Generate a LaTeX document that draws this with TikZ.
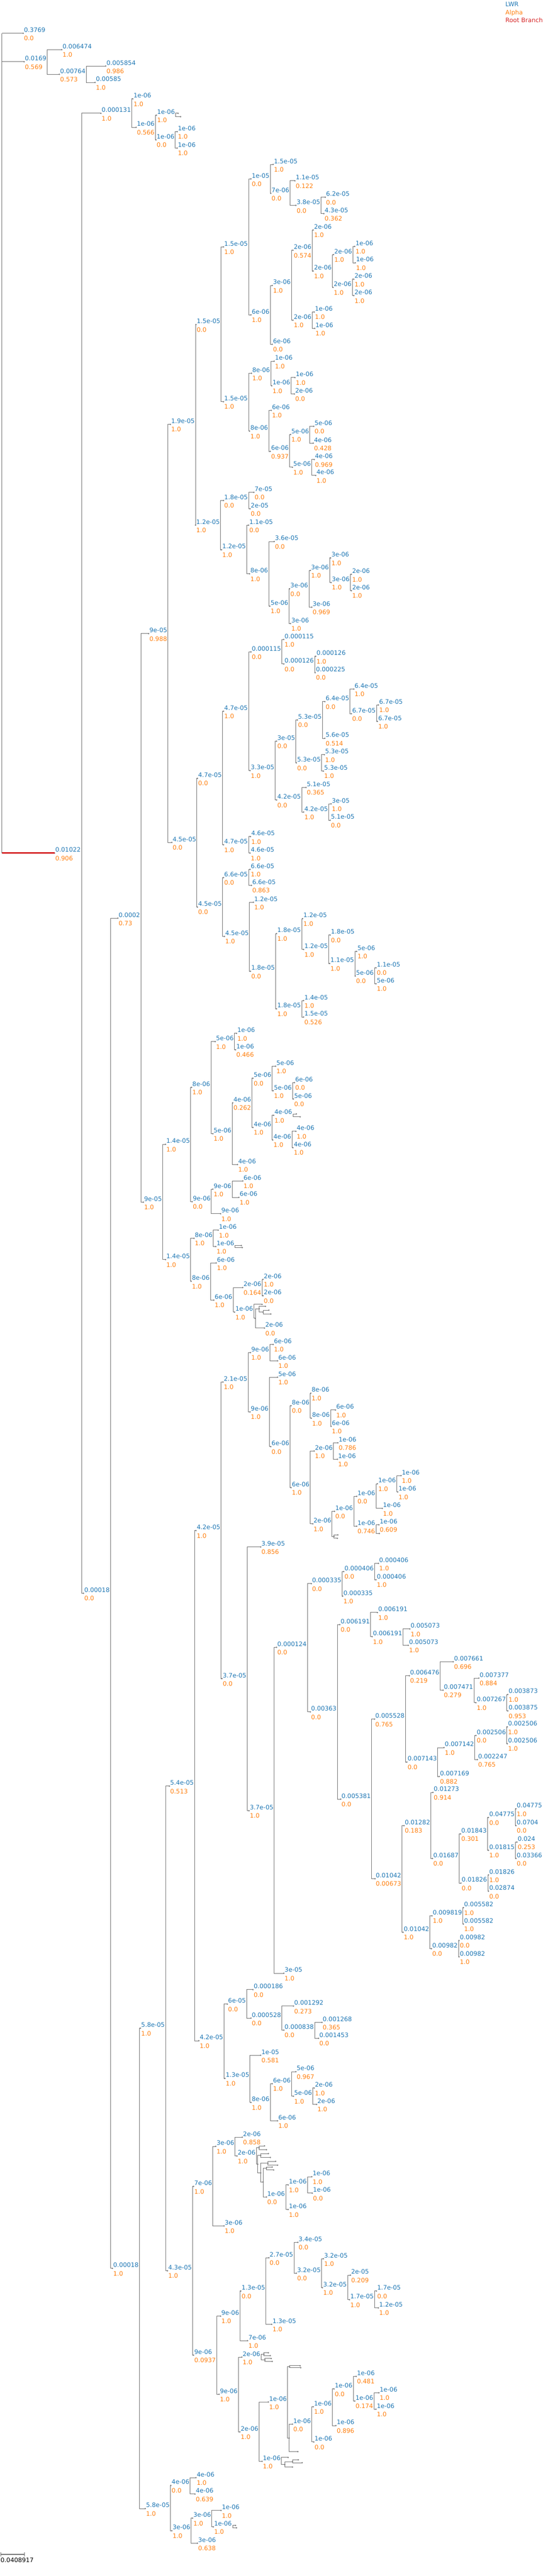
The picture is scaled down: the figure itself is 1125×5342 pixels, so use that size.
\documentclass[tikz,border=0pt]{standalone}
\usepackage{fontspec}
\setmainfont{DejaVu Sans}
\usetikzlibrary{shapes.multipart}
\usetikzlibrary{arrows.meta}

\definecolor{lwrblue}{HTML}{1F77B4}
\definecolor{alphaorange}{HTML}{FF7F0E}
\definecolor{rootred}{HTML}{D62728}
\definecolor{branchgray}{HTML}{707070}
\definecolor{tipgray}{HTML}{808080}

\begin{document}
\begin{tikzpicture}[
    x=0.75pt, y=-0.75pt,
    lwr/.style={rectangle split, rectangle split parts=2,
      rectangle split part align=left, inner xsep=1.1pt, inner ysep=0pt,
      text height=11.25pt, text depth=1.5pt, anchor=text split west,
      text=lwrblue, font=\fontsize{9.5pt}{11pt}\selectfont,
      append after command={(\tikzlastnode.text split west) node[tipdot] {}}},
    every two node part/.style={font=\fontsize{9.5pt}{11pt}\selectfont\color{alphaorange}\rule{0pt}{11.25pt}},
    tipdot/.style={circle, fill=tipgray, inner sep=0pt, minimum size=2.4pt},
    br/.style={draw=branchgray, line width=0.8pt},
    rootbr/.style={draw=rootred, line width=2.7pt},
    legendtext/.style={anchor=base west, inner sep=0pt, font=\fontsize{9.5pt}{11pt}\selectfont},
    scalebar/.style={draw=branchgray, line width=0.9pt, {Bar[width=6.75pt]}-{Bar[width=6.75pt]}},
  ]
  \useasboundingbox (0,0) rectangle (1125,5342);

  \node[legendtext, text=lwrblue] (key lwr) at (1047,13) {LWR};
  \node[legendtext, text=alphaorange] (key alpha) at (1047,30) {Alpha};
  \node[legendtext, text=rootred] (key root) at (1047,47) {Root Branch};

  \coordinate (root) at (4,69);
  \node[lwr] (n1) at (48,69) {0.3769\nodepart{two}0.0};
  \node[lwr] (n2) at (50,128) {0.0169\nodepart{two}0.569};
  \node[lwr] (n3) at (128,103) {0.006474\nodepart{two}1.0};
  \node[lwr] (n4) at (123,154) {0.00764\nodepart{two}0.573};
  \node[lwr] (n5) at (219,137) {0.005854\nodepart{two}0.986};
  \node[lwr] (n6) at (197,171) {0.00585\nodepart{two}1.0};
  \node[lwr] (n7) at (113,1769) {0.01022\nodepart{two}0.906};
  \node[lwr] (n8) at (209,235) {0.000131\nodepart{two}1.0};
  \node[lwr] (n9) at (275,205) {1e-06\nodepart{two}1.0};
  \node[lwr] (n10) at (282,264) {1e-06\nodepart{two}0.566};
  \node[lwr] (n11) at (324,239) {1e-06\nodepart{two}1.0};
  \node[tipdot] (n11a) at (369,235) {};
  \node[tipdot] (n11b) at (374,242) {};
  \node[lwr] (n12) at (323,290) {1e-06\nodepart{two}0.0};
  \node[lwr] (n13) at (367,273) {1e-06\nodepart{two}1.0};
  \node[lwr] (n14) at (367,307) {1e-06\nodepart{two}1.0};
  \node[lwr] (n15) at (173,3304) {0.00018\nodepart{two}0.0};
  \node[lwr] (n16) at (244,1904) {0.0002\nodepart{two}0.73};
  \node[lwr] (n17) at (308,1314) {9e-05\nodepart{two}0.988};
  \node[lwr] (n18) at (353,880) {1.9e-05\nodepart{two}1.0};
  \node[lwr] (n19) at (406,673) {1.5e-05\nodepart{two}0.0};
  \node[lwr] (n20) at (463,512) {1.5e-05\nodepart{two}1.0};
  \node[lwr] (n21) at (520,371) {1e-05\nodepart{two}0.0};
  \node[lwr] (n22) at (566,341) {1.5e-05\nodepart{two}1.0};
  \node[lwr] (n23) at (561,401) {7e-06\nodepart{two}0.0};
  \node[lwr] (n24) at (611,375) {1.1e-05\nodepart{two}0.122};
  \node[lwr] (n25) at (613,426) {3.8e-05\nodepart{two}0.0};
  \node[lwr] (n26) at (674,409) {6.2e-05\nodepart{two}0.0};
  \node[lwr] (n27) at (671,443) {4.3e-05\nodepart{two}0.362};
  \node[lwr] (n28) at (520,653) {6e-06\nodepart{two}1.0};
  \node[lwr] (n29) at (564,592) {3e-06\nodepart{two}1.0};
  \node[lwr] (n30) at (607,519) {2e-06\nodepart{two}0.574};
  \node[lwr] (n31) at (649,477) {2e-06\nodepart{two}1.0};
  \node[lwr] (n32) at (649,562) {2e-06\nodepart{two}1.0};
  \node[lwr] (n33) at (691,528) {2e-06\nodepart{two}1.0};
  \node[lwr] (n34) at (735,511) {1e-06\nodepart{two}1.0};
  \node[lwr] (n35) at (736,545) {1e-06\nodepart{two}1.0};
  \node[lwr] (n36) at (690,596) {2e-06\nodepart{two}1.0};
  \node[lwr] (n37) at (733,579) {2e-06\nodepart{two}1.0};
  \node[lwr] (n38) at (733,613) {2e-06\nodepart{two}1.0};
  \node[lwr] (n39) at (607,664) {2e-06\nodepart{two}1.0};
  \node[lwr] (n40) at (651,647) {1e-06\nodepart{two}1.0};
  \node[lwr] (n41) at (652,681) {1e-06\nodepart{two}1.0};
  \node[lwr] (n42) at (564,714) {6e-06\nodepart{two}0.0};
  \node[lwr] (n43) at (463,833) {1.5e-05\nodepart{two}1.0};
  \node[lwr] (n44) at (521,774) {8e-06\nodepart{two}1.0};
  \node[lwr] (n45) at (568,749) {1e-06\nodepart{two}1.0};
  \node[lwr] (n46) at (563,800) {1e-06\nodepart{two}1.0};
  \node[lwr] (n47) at (611,783) {1e-06\nodepart{two}1.0};
  \node[lwr] (n48) at (610,817) {2e-06\nodepart{two}0.0};
  \node[lwr] (n49) at (517,894) {8e-06\nodepart{two}1.0};
  \node[lwr] (n50) at (562,851) {6e-06\nodepart{two}1.0};
  \node[lwr] (n51) at (560,936) {6e-06\nodepart{two}0.937};
  \node[lwr] (n52) at (602,901) {5e-06\nodepart{two}1.0};
  \node[lwr] (n53) at (650,884) {5e-06\nodepart{two}0.0};
  \node[lwr] (n54) at (649,919) {4e-06\nodepart{two}0.428};
  \node[lwr] (n55) at (606,969) {5e-06\nodepart{two}1.0};
  \node[lwr] (n56) at (651,953) {4e-06\nodepart{two}0.969};
  \node[lwr] (n57) at (654,986) {4e-06\nodepart{two}1.0};
  \node[lwr] (n58) at (405,1089) {1.2e-05\nodepart{two}1.0};
  \node[lwr] (n59) at (463,1038) {1.8e-05\nodepart{two}0.0};
  \node[lwr] (n60) at (526,1021) {7e-05\nodepart{two}0.0};
  \node[lwr] (n61) at (518,1055) {2e-05\nodepart{two}0.0};
  \node[lwr] (n62) at (459,1140) {1.2e-05\nodepart{two}1.0};
  \node[lwr] (n63) at (515,1089) {1.1e-05\nodepart{two}0.0};
  \node[lwr] (n64) at (517,1190) {8e-06\nodepart{two}1.0};
  \node[lwr] (n65) at (568,1123) {3.6e-05\nodepart{two}0.0};
  \node[lwr] (n66) at (559,1257) {5e-06\nodepart{two}1.0};
  \node[lwr] (n67) at (600,1221) {3e-06\nodepart{two}0.0};
  \node[lwr] (n68) at (643,1183) {3e-06\nodepart{two}1.0};
  \node[lwr] (n69) at (685,1157) {3e-06\nodepart{two}1.0};
  \node[lwr] (n70) at (686,1208) {3e-06\nodepart{two}1.0};
  \node[lwr] (n71) at (728,1191) {2e-06\nodepart{two}1.0};
  \node[lwr] (n72) at (728,1225) {2e-06\nodepart{two}1.0};
  \node[lwr] (n73) at (646,1259) {3e-06\nodepart{two}0.969};
  \node[lwr] (n74) at (602,1293) {3e-06\nodepart{two}1.0};
  \node[lwr] (n75) at (356,1747) {4.5e-05\nodepart{two}0.0};
  \node[lwr] (n76) at (409,1614) {4.7e-05\nodepart{two}0.0};
  \node[lwr] (n77) at (463,1475) {4.7e-05\nodepart{two}1.0};
  \node[lwr] (n78) at (520,1352) {0.000115\nodepart{two}0.0};
  \node[lwr] (n79) at (588,1326) {0.000115\nodepart{two}1.0};
  \node[lwr] (n80) at (588,1377) {0.000126\nodepart{two}0.0};
  \node[lwr] (n81) at (654,1361) {0.000126\nodepart{two}1.0};
  \node[lwr] (n82) at (653,1395) {0.000225\nodepart{two}0.0};
  \node[lwr] (n83) at (518,1598) {3.3e-05\nodepart{two}1.0};
  \node[lwr] (n84) at (573,1537) {3e-05\nodepart{two}0.0};
  \node[lwr] (n85) at (616,1493) {5.3e-05\nodepart{two}0.0};
  \node[lwr] (n86) at (673,1455) {6.4e-05\nodepart{two}0.0};
  \node[lwr] (n87) at (733,1429) {6.4e-05\nodepart{two}1.0};
  \node[lwr] (n88) at (728,1480) {6.7e-05\nodepart{two}0.0};
  \node[lwr] (n89) at (784,1462) {6.7e-05\nodepart{two}1.0};
  \node[lwr] (n90) at (782,1496) {6.7e-05\nodepart{two}1.0};
  \node[lwr] (n91) at (673,1531) {5.6e-05\nodepart{two}0.514};
  \node[lwr] (n92) at (614,1582) {5.3e-05\nodepart{two}0.0};
  \node[lwr] (n93) at (672,1565) {5.3e-05\nodepart{two}1.0};
  \node[lwr] (n94) at (670,1599) {5.3e-05\nodepart{two}1.0};
  \node[lwr] (n95) at (573,1659) {4.2e-05\nodepart{two}0.0};
  \node[lwr] (n96) at (634,1633) {5.1e-05\nodepart{two}0.365};
  \node[lwr] (n97) at (629,1684) {4.2e-05\nodepart{two}1.0};
  \node[lwr] (n98) at (686,1667) {3e-05\nodepart{two}1.0};
  \node[lwr] (n99) at (684,1701) {5.1e-05\nodepart{two}0.0};
  \node[lwr] (n100) at (463,1752) {4.7e-05\nodepart{two}1.0};
  \node[lwr] (n101) at (519,1735) {4.6e-05\nodepart{two}1.0};
  \node[lwr] (n102) at (518,1769) {4.6e-05\nodepart{two}1.0};
  \node[lwr] (n103) at (409,1881) {4.5e-05\nodepart{two}0.0};
  \node[lwr] (n104) at (463,1820) {6.6e-05\nodepart{two}0.0};
  \node[lwr] (n105) at (518,1803) {6.6e-05\nodepart{two}1.0};
  \node[lwr] (n106) at (521,1836) {6.6e-05\nodepart{two}0.863};
  \node[lwr] (n107) at (465,1942) {4.5e-05\nodepart{two}1.0};
  \node[lwr] (n108) at (525,1871) {1.2e-05\nodepart{two}1.0};
  \node[lwr] (n109) at (519,2014) {1.8e-05\nodepart{two}0.0};
  \node[lwr] (n110) at (573,1936) {1.8e-05\nodepart{two}1.0};
  \node[lwr] (n111) at (627,1905) {1.2e-05\nodepart{two}1.0};
  \node[lwr] (n112) at (629,1969) {1.2e-05\nodepart{two}1.0};
  \node[lwr] (n113) at (684,1939) {1.8e-05\nodepart{two}0.0};
  \node[lwr] (n114) at (683,1998) {1.1e-05\nodepart{two}1.0};
  \node[lwr] (n115) at (739,1973) {5e-06\nodepart{two}1.0};
  \node[lwr] (n116) at (736,2024) {5e-06\nodepart{two}0.0};
  \node[lwr] (n117) at (779,2007) {1.1e-05\nodepart{two}0.0};
  \node[lwr] (n118) at (779,2040) {5e-06\nodepart{two}1.0};
  \node[lwr] (n119) at (573,2092) {1.8e-05\nodepart{two}1.0};
  \node[lwr] (n120) at (629,2075) {1.4e-05\nodepart{two}1.0};
  \node[lwr] (n121) at (629,2109) {1.5e-05\nodepart{two}0.526};
  \node[lwr] (n122) at (297,2493) {9e-05\nodepart{two}1.0};
  \node[lwr] (n123) at (343,2373) {1.4e-05\nodepart{two}1.0};
  \node[lwr] (n124) at (397,2255) {8e-06\nodepart{two}1.0};
  \node[lwr] (n125) at (446,2160) {5e-06\nodepart{two}1.0};
  \node[lwr] (n126) at (490,2143) {1e-06\nodepart{two}1.0};
  \node[lwr] (n127) at (488,2177) {1e-06\nodepart{two}0.466};
  \node[lwr] (n128) at (441,2351) {5e-06\nodepart{two}1.0};
  \node[lwr] (n129) at (482,2287) {4e-06\nodepart{two}0.262};
  \node[lwr] (n130) at (524,2236) {5e-06\nodepart{two}0.0};
  \node[lwr] (n131) at (571,2211) {5e-06\nodepart{two}1.0};
  \node[lwr] (n132) at (566,2262) {5e-06\nodepart{two}1.0};
  \node[lwr] (n133) at (610,2245) {6e-06\nodepart{two}0.0};
  \node[lwr] (n134) at (608,2279) {5e-06\nodepart{two}0.0};
  \node[lwr] (n135) at (524,2338) {4e-06\nodepart{two}1.0};
  \node[lwr] (n136) at (567,2313) {4e-06\nodepart{two}1.0};
  \node[tipdot] (n136a) at (614,2310) {};
  \node[tipdot] (n136b) at (622,2316) {};
  \node[lwr] (n137) at (565,2364) {4e-06\nodepart{two}1.0};
  \node[lwr] (n138) at (613,2346) {4e-06\nodepart{two}1.0};
  \node[lwr] (n139) at (607,2380) {4e-06\nodepart{two}1.0};
  \node[lwr] (n140) at (492,2415) {4e-06\nodepart{two}1.0};
  \node[lwr] (n141) at (398,2492) {9e-06\nodepart{two}0.0};
  \node[lwr] (n142) at (441,2466) {9e-06\nodepart{two}1.0};
  \node[lwr] (n143) at (503,2449) {6e-06\nodepart{two}1.0};
  \node[lwr] (n144) at (495,2483) {6e-06\nodepart{two}1.0};
  \node[lwr] (n145) at (457,2517) {9e-06\nodepart{two}1.0};
  \node[lwr] (n146) at (343,2612) {1.4e-05\nodepart{two}1.0};
  \node[lwr] (n147) at (402,2568) {8e-06\nodepart{two}1.0};
  \node[lwr] (n148) at (452,2551) {1e-06\nodepart{two}1.0};
  \node[lwr] (n149) at (447,2585) {1e-06\nodepart{two}1.0};
  \node[tipdot] (n149a) at (500,2583) {};
  \node[tipdot] (n149b) at (502,2587) {};
  \node[lwr] (n150) at (396,2657) {8e-06\nodepart{two}1.0};
  \node[lwr] (n151) at (448,2619) {6e-06\nodepart{two}1.0};
  \node[lwr] (n152) at (443,2696) {6e-06\nodepart{two}1.0};
  \node[lwr] (n153) at (503,2670) {2e-06\nodepart{two}0.164};
  \node[lwr] (n154) at (545,2653) {2e-06\nodepart{two}1.0};
  \node[lwr] (n155) at (545,2687) {2e-06\nodepart{two}0.0};
  \node[lwr] (n156) at (486,2721) {1e-06\nodepart{two}1.0};
  \node[tipdot] (n156a) at (543,2705) {};
  \node[tipdot] (n156b) at (529,2734) {};
  \node[tipdot] (n156e) at (537,2714) {};
  \node[tipdot] (n156f) at (550,2709) {};
  \node[tipdot] (n156g) at (545,2721) {};
  \node[tipdot] (n156h) at (557,2717) {};
  \node[tipdot] (n156i) at (561,2725) {};
  \node[lwr] (n157) at (548,2754) {2e-06\nodepart{two}0.0};
  \node[lwr] (n158) at (233,4704) {0.00018\nodepart{two}1.0};
  \node[lwr] (n159) at (291,4206) {5.8e-05\nodepart{two}1.0};
  \node[lwr] (n160) at (351,3704) {5.4e-05\nodepart{two}0.513};
  \node[lwr] (n161) at (406,3174) {4.2e-05\nodepart{two}1.0};
  \node[lwr] (n162) at (462,2866) {2.1e-05\nodepart{two}1.0};
  \node[lwr] (n163) at (519,2805) {9e-06\nodepart{two}1.0};
  \node[lwr] (n164) at (566,2788) {6e-06\nodepart{two}1.0};
  \node[lwr] (n165) at (575,2822) {6e-06\nodepart{two}1.0};
  \node[lwr] (n166) at (518,2928) {9e-06\nodepart{two}1.0};
  \node[lwr] (n167) at (575,2856) {5e-06\nodepart{two}1.0};
  \node[lwr] (n168) at (561,3000) {6e-06\nodepart{two}0.0};
  \node[lwr] (n169) at (603,2915) {8e-06\nodepart{two}0.0};
  \node[lwr] (n170) at (644,2889) {8e-06\nodepart{two}1.0};
  \node[lwr] (n171) at (645,2941) {8e-06\nodepart{two}1.0};
  \node[lwr] (n172) at (695,2924) {6e-06\nodepart{two}1.0};
  \node[lwr] (n173) at (686,2958) {6e-06\nodepart{two}1.0};
  \node[lwr] (n174) at (603,3085) {6e-06\nodepart{two}1.0};
  \node[lwr] (n175) at (651,3009) {2e-06\nodepart{two}1.0};
  \node[lwr] (n176) at (700,2992) {1e-06\nodepart{two}0.786};
  \node[lwr] (n177) at (699,3026) {1e-06\nodepart{two}1.0};
  \node[lwr] (n178) at (648,3160) {2e-06\nodepart{two}1.0};
  \node[lwr] (n179) at (693,3134) {1e-06\nodepart{two}0.0};
  \node[lwr] (n180) at (739,3103) {1e-06\nodepart{two}0.0};
  \node[lwr] (n181) at (782,3077) {1e-06\nodepart{two}1.0};
  \node[lwr] (n182) at (831,3060) {1e-06\nodepart{two}1.0};
  \node[lwr] (n183) at (824,3094) {1e-06\nodepart{two}1.0};
  \node[lwr] (n184) at (792,3128) {1e-06\nodepart{two}1.0};
  \node[lwr] (n185) at (739,3165) {1e-06\nodepart{two}0.746};
  \node[lwr] (n186) at (785,3162) {1e-06\nodepart{two}0.609};
  \node[tipdot] (n185a) at (786,3180) {};
  \node[tipdot] (n178a) at (692,3186) {};
  \node[tipdot] (n178b) at (700,3183) {};
  \node[tipdot] (n178c) at (699,3190) {};
  \node[lwr] (n187) at (460,3481) {3.7e-05\nodepart{two}0.0};
  \node[lwr] (n188) at (540,3208) {3.9e-05\nodepart{two}0.856};
  \node[lwr] (n189) at (516,3755) {3.7e-05\nodepart{two}1.0};
  \node[lwr] (n190) at (573,3416) {0.000124\nodepart{two}0.0};
  \node[lwr] (n191) at (645,3284) {0.000335\nodepart{two}0.0};
  \node[lwr] (n192) at (712,3259) {0.000406\nodepart{two}0.0};
  \node[lwr] (n193) at (784,3242) {0.000406\nodepart{two}1.0};
  \node[lwr] (n194) at (779,3276) {0.000406\nodepart{two}1.0};
  \node[lwr] (n195) at (710,3310) {0.000335\nodepart{two}1.0};
  \node[lwr] (n196) at (643,3550) {0.00363\nodepart{two}0.0};
  \node[lwr] (n197) at (704,3369) {0.006191\nodepart{two}0.0};
  \node[lwr] (n198) at (782,3344) {0.006191\nodepart{two}1.0};
  \node[lwr] (n199) at (771,3394) {0.006191\nodepart{two}1.0};
  \node[lwr] (n200) at (849,3378) {0.005073\nodepart{two}1.0};
  \node[lwr] (n201) at (846,3412) {0.005073\nodepart{two}1.0};
  \node[lwr] (n202) at (706,3731) {0.005381\nodepart{two}0.0};
  \node[lwr] (n203) at (776,3565) {0.005528\nodepart{two}0.765};
  \node[lwr] (n204) at (848,3475) {0.006476\nodepart{two}0.219};
  \node[lwr] (n205) at (939,3446) {0.007661\nodepart{two}0.696};
  \node[lwr] (n206) at (918,3505) {0.007471\nodepart{two}0.279};
  \node[lwr] (n207) at (992,3480) {0.007377\nodepart{two}0.884};
  \node[lwr] (n208) at (986,3531) {0.007267\nodepart{two}1.0};
  \node[lwr] (n209) at (1052,3514) {0.003873\nodepart{two}1.0};
  \node[lwr] (n210) at (1052,3548) {0.003875\nodepart{two}0.953};
  \node[lwr] (n211) at (843,3654) {0.007143\nodepart{two}0.0};
  \node[lwr] (n212) at (920,3624) {0.007142\nodepart{two}1.0};
  \node[lwr] (n213) at (986,3599) {0.002506\nodepart{two}0.0};
  \node[lwr] (n214) at (1051,3581) {0.002506\nodepart{two}1.0};
  \node[lwr] (n215) at (1051,3616) {0.002506\nodepart{two}1.0};
  \node[lwr] (n216) at (989,3649) {0.002247\nodepart{two}0.765};
  \node[lwr] (n217) at (910,3684) {0.007169\nodepart{two}0.882};
  \node[lwr] (n218) at (777,3896) {0.01042\nodepart{two}0.00673};
  \node[lwr] (n219) at (837,3786) {0.01282\nodepart{two}0.183};
  \node[lwr] (n220) at (897,3717) {0.01273\nodepart{two}0.914};
  \node[lwr] (n221) at (896,3854) {0.01687\nodepart{two}0.0};
  \node[lwr] (n222) at (954,3803) {0.01843\nodepart{two}0.301};
  \node[lwr] (n223) at (1012,3769) {0.04775\nodepart{two}0.0};
  \node[lwr] (n224) at (1069,3751) {0.04775\nodepart{two}1.0};
  \node[lwr] (n225) at (1069,3786) {0.0704\nodepart{two}0.0};
  \node[lwr] (n226) at (1012,3837) {0.01815\nodepart{two}1.0};
  \node[lwr] (n227) at (1071,3820) {0.024\nodepart{two}0.253};
  \node[lwr] (n228) at (1069,3854) {0.03366\nodepart{two}0.0};
  \node[lwr] (n229) at (955,3905) {0.01826\nodepart{two}0.0};
  \node[lwr] (n230) at (1012,3888) {0.01826\nodepart{two}1.0};
  \node[lwr] (n231) at (1012,3922) {0.02874\nodepart{two}0.0};
  \node[lwr] (n232) at (835,4007) {0.01042\nodepart{two}1.0};
  \node[lwr] (n233) at (895,3973) {0.009819\nodepart{two}1.0};
  \node[lwr] (n234) at (960,3956) {0.005582\nodepart{two}1.0};
  \node[lwr] (n235) at (960,3990) {0.005582\nodepart{two}1.0};
  \node[lwr] (n236) at (894,4041) {0.00982\nodepart{two}0.0};
  \node[lwr] (n237) at (951,4024) {0.00982\nodepart{two}0.0};
  \node[lwr] (n238) at (951,4058) {0.00982\nodepart{two}1.0};
  \node[lwr] (n239) at (588,4092) {3e-05\nodepart{two}1.0};
  \node[lwr] (n240) at (412,4232) {4.2e-05\nodepart{two}1.0};
  \node[lwr] (n241) at (471,4156) {6e-05\nodepart{two}0.0};
  \node[lwr] (n242) at (524,4126) {0.000186\nodepart{two}0.0};
  \node[lwr] (n243) at (520,4185) {0.000528\nodepart{two}0.0};
  \node[lwr] (n244) at (608,4160) {0.001292\nodepart{two}0.273};
  \node[lwr] (n245) at (588,4210) {0.000838\nodepart{two}0.0};
  \node[lwr] (n246) at (667,4194) {0.001268\nodepart{two}0.365};
  \node[lwr] (n247) at (660,4227) {0.001453\nodepart{two}0.0};
  \node[lwr] (n248) at (466,4310) {1.3e-05\nodepart{two}1.0};
  \node[lwr] (n249) at (540,4262) {1e-05\nodepart{two}0.581};
  \node[lwr] (n250) at (520,4360) {8e-06\nodepart{two}1.0};
  \node[lwr] (n251) at (564,4321) {6e-06\nodepart{two}1.0};
  \node[lwr] (n252) at (613,4296) {5e-06\nodepart{two}0.967};
  \node[lwr] (n253) at (608,4347) {5e-06\nodepart{two}1.0};
  \node[lwr] (n254) at (651,4330) {2e-06\nodepart{two}1.0};
  \node[lwr] (n255) at (656,4364) {2e-06\nodepart{two}1.0};
  \node[lwr] (n256) at (575,4398) {6e-06\nodepart{two}1.0};
  \node[lwr] (n257) at (347,4709) {4.3e-05\nodepart{two}1.0};
  \node[lwr] (n258) at (401,4534) {7e-06\nodepart{two}1.0};
  \node[lwr] (n259) at (447,4451) {3e-06\nodepart{two}1.0};
  \node[lwr] (n260) at (502,4432) {2e-06\nodepart{two}0.858};
  \node[lwr] (n261) at (491,4471) {2e-06\nodepart{two}1.0};
  \node[tipdot] (n261a) at (537,4454) {};
  \node[tipdot] (n261b) at (548,4450) {};
  \node[tipdot] (n261c) at (552,4458) {};
  \node[tipdot] (n261d) at (534,4488) {};
  \node[tipdot] (n261e) at (540,4470) {};
  \node[tipdot] (n261f) at (556,4466) {};
  \node[tipdot] (n261g) at (560,4474) {};
  \node[tipdot] (n261h) at (540,4506) {};
  \node[tipdot] (n261i) at (555,4486) {};
  \node[tipdot] (n261j) at (571,4482) {};
  \node[tipdot] (n261k) at (575,4490) {};
  \node[tipdot] (n261l) at (545,4525) {};
  \node[tipdot] (n261m) at (552,4496) {};
  \node[tipdot] (n261n) at (564,4494) {};
  \node[tipdot] (n261o) at (567,4500) {};
  \node[lwr] (n262) at (552,4556) {1e-06\nodepart{two}0.0};
  \node[lwr] (n263) at (597,4531) {1e-06\nodepart{two}1.0};
  \node[lwr] (n264) at (646,4514) {1e-06\nodepart{two}1.0};
  \node[lwr] (n265) at (647,4548) {1e-06\nodepart{two}0.0};
  \node[lwr] (n266) at (597,4582) {1e-06\nodepart{two}1.0};
  \node[lwr] (n267) at (464,4616) {3e-06\nodepart{two}1.0};
  \node[lwr] (n268) at (401,4884) {9e-06\nodepart{two}0.0937};
  \node[lwr] (n269) at (457,4803) {9e-06\nodepart{two}1.0};
  \node[lwr] (n270) at (499,4751) {1.3e-05\nodepart{two}0.0};
  \node[lwr] (n271) at (557,4682) {2.7e-05\nodepart{two}0.0};
  \node[lwr] (n272) at (617,4650) {3.4e-05\nodepart{two}0.0};
  \node[lwr] (n273) at (614,4714) {3.2e-05\nodepart{two}0.0};
  \node[lwr] (n274) at (670,4684) {3.2e-05\nodepart{two}1.0};
  \node[lwr] (n275) at (668,4744) {3.2e-05\nodepart{two}1.0};
  \node[lwr] (n276) at (726,4718) {2e-05\nodepart{two}0.209};
  \node[lwr] (n277) at (724,4769) {1.7e-05\nodepart{two}1.0};
  \node[lwr] (n278) at (780,4751) {1.7e-05\nodepart{two}0.0};
  \node[lwr] (n279) at (784,4786) {1.2e-05\nodepart{two}1.0};
  \node[lwr] (n280) at (563,4820) {1.3e-05\nodepart{two}1.0};
  \node[lwr] (n281) at (513,4854) {7e-06\nodepart{two}1.0};
  \node[lwr] (n282) at (454,4965) {9e-06\nodepart{two}1.0};
  \node[lwr] (n283) at (501,4888) {2e-06\nodepart{two}1.0};
  \node[tipdot] (n283a) at (547,4882) {};
  \node[tipdot] (n283b) at (556,4879) {};
  \node[tipdot] (n283c) at (560,4885) {};
  \node[tipdot] (n283d) at (549,4894) {};
  \node[tipdot] (n283e) at (562,4891) {};
  \node[tipdot] (n283f) at (564,4897) {};
  \node[lwr] (n284) at (497,5043) {2e-06\nodepart{two}1.0};
  \node[lwr] (n285) at (556,4981) {1e-06\nodepart{two}1.0};
  \node[tipdot] (n285a) at (600,4908) {};
  \node[tipdot] (n285b) at (622,4906) {};
  \node[tipdot] (n285c) at (623,4910) {};
  \node[tipdot] (n285d) at (599,5056) {};
  \node[tipdot] (n285e) at (617,5084) {};
  \node[lwr] (n286) at (606,5027) {1e-06\nodepart{two}0.0};
  \node[lwr] (n287) at (649,4991) {1e-06\nodepart{two}1.0};
  \node[lwr] (n288) at (692,4954) {1e-06\nodepart{two}0.0};
  \node[lwr] (n289) at (738,4928) {1e-06\nodepart{two}0.481};
  \node[lwr] (n290) at (735,4979) {1e-06\nodepart{two}0.174};
  \node[lwr] (n291) at (785,4962) {1e-06\nodepart{two}1.0};
  \node[lwr] (n292) at (779,4996) {1e-06\nodepart{two}1.0};
  \node[lwr] (n293) at (696,5030) {1e-06\nodepart{two}0.896};
  \node[lwr] (n294) at (650,5064) {1e-06\nodepart{two}0.0};
  \node[lwr] (n295) at (543,5104) {1e-06\nodepart{two}1.0};
  \node[tipdot] (n295a) at (597,5096) {};
  \node[tipdot] (n295b) at (590,5111) {};
  \node[tipdot] (n295c) at (606,5105) {};
  \node[tipdot] (n295d) at (618,5101) {};
  \node[tipdot] (n295e) at (626,5107) {};
  \node[tipdot] (n295f) at (606,5116) {};
  \node[lwr] (n296) at (301,5202) {5.8e-05\nodepart{two}1.0};
  \node[lwr] (n297) at (354,5154) {4e-06\nodepart{two}0.0};
  \node[lwr] (n298) at (406,5138) {4e-06\nodepart{two}1.0};
  \node[lwr] (n299) at (404,5172) {4e-06\nodepart{two}0.639};
  \node[lwr] (n300) at (356,5248) {3e-06\nodepart{two}1.0};
  \node[lwr] (n301) at (399,5222) {3e-06\nodepart{two}1.0};
  \node[lwr] (n302) at (458,5206) {1e-06\nodepart{two}1.0};
  \node[lwr] (n303) at (442,5240) {1e-06\nodepart{two}1.0};
  \node[tipdot] (n303a) at (488,5237) {};
  \node[tipdot] (n303b) at (490,5242) {};
  \node[lwr] (n304) at (409,5274) {3e-06\nodepart{two}0.638};

  \draw[br] (root) |- (n1.text split west) (root) |- (n2.text split west) (root) |- (n7.text split west);
  \draw[rootbr] (n7.text split west -| root) -- (n7.text split west);
  \draw[br] (n2.text split east) |- (n3.text split west) (n2.text split east) |- (n4.text split west);
  \draw[br] (n4.text split east) |- (n5.text split west) (n4.text split east) |- (n6.text split west);
  \draw[br] (n7.text split east) |- (n8.text split west) (n7.text split east) |- (n15.text split west);
  \draw[br] (n8.text split east) |- (n9.text split west) (n8.text split east) |- (n10.text split west);
  \draw[br] (n10.text split east) |- (n11.text split west) (n10.text split east) |- (n12.text split west);
  \draw[br] (n11.text split east) |- (n11a.center) (n11.text split east) |- (n11b.center);
  \draw[br] (n12.text split east) |- (n13.text split west) (n12.text split east) |- (n14.text split west);
  \draw[br] (n15.text split east) |- (n16.text split west) (n15.text split east) |- (n158.text split west);
  \draw[br] (n16.text split east) |- (n17.text split west) (n16.text split east) |- (n122.text split west);
  \draw[br] (n17.text split east) |- (n18.text split west) (n17.text split east) |- (n75.text split west);
  \draw[br] (n18.text split east) |- (n19.text split west) (n18.text split east) |- (n58.text split west);
  \draw[br] (n19.text split east) |- (n20.text split west) (n19.text split east) |- (n43.text split west);
  \draw[br] (n20.text split east) |- (n21.text split west) (n20.text split east) |- (n28.text split west);
  \draw[br] (n21.text split east) |- (n22.text split west) (n21.text split east) |- (n23.text split west);
  \draw[br] (n23.text split east) |- (n24.text split west) (n23.text split east) |- (n25.text split west);
  \draw[br] (n25.text split east) |- (n26.text split west) (n25.text split east) |- (n27.text split west);
  \draw[br] (n28.text split east) |- (n29.text split west) (n28.text split east) |- (n42.text split west);
  \draw[br] (n29.text split east) |- (n30.text split west) (n29.text split east) |- (n39.text split west);
  \draw[br] (n30.text split east) |- (n31.text split west) (n30.text split east) |- (n32.text split west);
  \draw[br] (n32.text split east) |- (n33.text split west) (n32.text split east) |- (n36.text split west);
  \draw[br] (n33.text split east) |- (n34.text split west) (n33.text split east) |- (n35.text split west);
  \draw[br] (n36.text split east) |- (n37.text split west) (n36.text split east) |- (n38.text split west);
  \draw[br] (n39.text split east) |- (n40.text split west) (n39.text split east) |- (n41.text split west);
  \draw[br] (n43.text split east) |- (n44.text split west) (n43.text split east) |- (n49.text split west);
  \draw[br] (n44.text split east) |- (n45.text split west) (n44.text split east) |- (n46.text split west);
  \draw[br] (n46.text split east) |- (n47.text split west) (n46.text split east) |- (n48.text split west);
  \draw[br] (n49.text split east) |- (n50.text split west) (n49.text split east) |- (n51.text split west);
  \draw[br] (n51.text split east) |- (n52.text split west) (n51.text split east) |- (n55.text split west);
  \draw[br] (n52.text split east) |- (n53.text split west) (n52.text split east) |- (n54.text split west);
  \draw[br] (n55.text split east) |- (n56.text split west) (n55.text split east) |- (n57.text split west);
  \draw[br] (n58.text split east) |- (n59.text split west) (n58.text split east) |- (n62.text split west);
  \draw[br] (n59.text split east) |- (n60.text split west) (n59.text split east) |- (n61.text split west);
  \draw[br] (n62.text split east) |- (n63.text split west) (n62.text split east) |- (n64.text split west);
  \draw[br] (n64.text split east) |- (n65.text split west) (n64.text split east) |- (n66.text split west);
  \draw[br] (n66.text split east) |- (n67.text split west) (n66.text split east) |- (n74.text split west);
  \draw[br] (n67.text split east) |- (n68.text split west) (n67.text split east) |- (n73.text split west);
  \draw[br] (n68.text split east) |- (n69.text split west) (n68.text split east) |- (n70.text split west);
  \draw[br] (n70.text split east) |- (n71.text split west) (n70.text split east) |- (n72.text split west);
  \draw[br] (n75.text split east) |- (n76.text split west) (n75.text split east) |- (n103.text split west);
  \draw[br] (n76.text split east) |- (n77.text split west) (n76.text split east) |- (n100.text split west);
  \draw[br] (n77.text split east) |- (n78.text split west) (n77.text split east) |- (n83.text split west);
  \draw[br] (n78.text split east) |- (n79.text split west) (n78.text split east) |- (n80.text split west);
  \draw[br] (n80.text split east) |- (n81.text split west) (n80.text split east) |- (n82.text split west);
  \draw[br] (n83.text split east) |- (n84.text split west) (n83.text split east) |- (n95.text split west);
  \draw[br] (n84.text split east) |- (n85.text split west) (n84.text split east) |- (n92.text split west);
  \draw[br] (n85.text split east) |- (n86.text split west) (n85.text split east) |- (n91.text split west);
  \draw[br] (n86.text split east) |- (n87.text split west) (n86.text split east) |- (n88.text split west);
  \draw[br] (n88.text split east) |- (n89.text split west) (n88.text split east) |- (n90.text split west);
  \draw[br] (n92.text split east) |- (n93.text split west) (n92.text split east) |- (n94.text split west);
  \draw[br] (n95.text split east) |- (n96.text split west) (n95.text split east) |- (n97.text split west);
  \draw[br] (n97.text split east) |- (n98.text split west) (n97.text split east) |- (n99.text split west);
  \draw[br] (n100.text split east) |- (n101.text split west) (n100.text split east) |- (n102.text split west);
  \draw[br] (n103.text split east) |- (n104.text split west) (n103.text split east) |- (n107.text split west);
  \draw[br] (n104.text split east) |- (n105.text split west) (n104.text split east) |- (n106.text split west);
  \draw[br] (n107.text split east) |- (n108.text split west) (n107.text split east) |- (n109.text split west);
  \draw[br] (n109.text split east) |- (n110.text split west) (n109.text split east) |- (n119.text split west);
  \draw[br] (n110.text split east) |- (n111.text split west) (n110.text split east) |- (n112.text split west);
  \draw[br] (n112.text split east) |- (n113.text split west) (n112.text split east) |- (n114.text split west);
  \draw[br] (n114.text split east) |- (n115.text split west) (n114.text split east) |- (n116.text split west);
  \draw[br] (n116.text split east) |- (n117.text split west) (n116.text split east) |- (n118.text split west);
  \draw[br] (n119.text split east) |- (n120.text split west) (n119.text split east) |- (n121.text split west);
  \draw[br] (n122.text split east) |- (n123.text split west) (n122.text split east) |- (n146.text split west);
  \draw[br] (n123.text split east) |- (n124.text split west) (n123.text split east) |- (n141.text split west);
  \draw[br] (n124.text split east) |- (n125.text split west) (n124.text split east) |- (n128.text split west);
  \draw[br] (n125.text split east) |- (n126.text split west) (n125.text split east) |- (n127.text split west);
  \draw[br] (n128.text split east) |- (n129.text split west) (n128.text split east) |- (n140.text split west);
  \draw[br] (n129.text split east) |- (n130.text split west) (n129.text split east) |- (n135.text split west);
  \draw[br] (n130.text split east) |- (n131.text split west) (n130.text split east) |- (n132.text split west);
  \draw[br] (n132.text split east) |- (n133.text split west) (n132.text split east) |- (n134.text split west);
  \draw[br] (n135.text split east) |- (n136.text split west) (n135.text split east) |- (n137.text split west);
  \draw[br] (n136.text split east) |- (n136a.center) (n136.text split east) |- (n136b.center);
  \draw[br] (n137.text split east) |- (n138.text split west) (n137.text split east) |- (n139.text split west);
  \draw[br] (n141.text split east) |- (n142.text split west) (n141.text split east) |- (n145.text split west);
  \draw[br] (n142.text split east) |- (n143.text split west) (n142.text split east) |- (n144.text split west);
  \draw[br] (n146.text split east) |- (n147.text split west) (n146.text split east) |- (n150.text split west);
  \draw[br] (n147.text split east) |- (n148.text split west) (n147.text split east) |- (n149.text split west);
  \draw[br] (n149.text split east) |- (n149a.center) (n149.text split east) |- (n149b.center);
  \draw[br] (n150.text split east) |- (n151.text split west) (n150.text split east) |- (n152.text split west);
  \draw[br] (n152.text split east) |- (n153.text split west) (n152.text split east) |- (n156.text split west);
  \draw[br] (n153.text split east) |- (n154.text split west) (n153.text split east) |- (n155.text split west);
  \draw[br] (n156.text split east) |- (n156a.center) (n156.text split east) |- (n156b.center);
  \draw[br] (n156b.center) |- (n156e.center) (n156b.center) |- (n157.text split west);
  \draw[br] (n156e.center) |- (n156f.center) (n156e.center) |- (n156g.center);
  \draw[br] (n156g.center) |- (n156h.center) (n156g.center) |- (n156i.center);
  \draw[br] (n158.text split east) |- (n159.text split west) (n158.text split east) |- (n296.text split west);
  \draw[br] (n159.text split east) |- (n160.text split west) (n159.text split east) |- (n257.text split west);
  \draw[br] (n160.text split east) |- (n161.text split west) (n160.text split east) |- (n240.text split west);
  \draw[br] (n161.text split east) |- (n162.text split west) (n161.text split east) |- (n187.text split west);
  \draw[br] (n162.text split east) |- (n163.text split west) (n162.text split east) |- (n166.text split west);
  \draw[br] (n163.text split east) |- (n164.text split west) (n163.text split east) |- (n165.text split west);
  \draw[br] (n166.text split east) |- (n167.text split west) (n166.text split east) |- (n168.text split west);
  \draw[br] (n168.text split east) |- (n169.text split west) (n168.text split east) |- (n174.text split west);
  \draw[br] (n169.text split east) |- (n170.text split west) (n169.text split east) |- (n171.text split west);
  \draw[br] (n171.text split east) |- (n172.text split west) (n171.text split east) |- (n173.text split west);
  \draw[br] (n174.text split east) |- (n175.text split west) (n174.text split east) |- (n178.text split west);
  \draw[br] (n175.text split east) |- (n176.text split west) (n175.text split east) |- (n177.text split west);
  \draw[br] (n178.text split east) |- (n179.text split west) (n178.text split east) |- (n178a.center);
  \draw[br] (n178a.center) |- (n178b.center) (n178a.center) |- (n178c.center);
  \draw[br] (n179.text split east) |- (n180.text split west) (n179.text split east) |- (n185.text split west);
  \draw[br] (n180.text split east) |- (n181.text split west) (n180.text split east) |- (n184.text split west);
  \draw[br] (n181.text split east) |- (n182.text split west) (n181.text split east) |- (n183.text split west);
  \draw[br] (n185.text split east) |- (n186.text split west) (n185.text split east) |- (n185a.center);
  \draw[br] (n187.text split east) |- (n188.text split west) (n187.text split east) |- (n189.text split west);
  \draw[br] (n189.text split east) |- (n190.text split west) (n189.text split east) |- (n239.text split west);
  \draw[br] (n190.text split east) |- (n191.text split west) (n190.text split east) |- (n196.text split west);
  \draw[br] (n191.text split east) |- (n192.text split west) (n191.text split east) |- (n195.text split west);
  \draw[br] (n192.text split east) |- (n193.text split west) (n192.text split east) |- (n194.text split west);
  \draw[br] (n196.text split east) |- (n197.text split west) (n196.text split east) |- (n202.text split west);
  \draw[br] (n197.text split east) |- (n198.text split west) (n197.text split east) |- (n199.text split west);
  \draw[br] (n199.text split east) |- (n200.text split west) (n199.text split east) |- (n201.text split west);
  \draw[br] (n202.text split east) |- (n203.text split west) (n202.text split east) |- (n218.text split west);
  \draw[br] (n203.text split east) |- (n204.text split west) (n203.text split east) |- (n211.text split west);
  \draw[br] (n204.text split east) |- (n205.text split west) (n204.text split east) |- (n206.text split west);
  \draw[br] (n206.text split east) |- (n207.text split west) (n206.text split east) |- (n208.text split west);
  \draw[br] (n208.text split east) |- (n209.text split west) (n208.text split east) |- (n210.text split west);
  \draw[br] (n211.text split east) |- (n212.text split west) (n211.text split east) |- (n217.text split west);
  \draw[br] (n212.text split east) |- (n213.text split west) (n212.text split east) |- (n216.text split west);
  \draw[br] (n213.text split east) |- (n214.text split west) (n213.text split east) |- (n215.text split west);
  \draw[br] (n218.text split east) |- (n219.text split west) (n218.text split east) |- (n232.text split west);
  \draw[br] (n219.text split east) |- (n220.text split west) (n219.text split east) |- (n221.text split west);
  \draw[br] (n221.text split east) |- (n222.text split west) (n221.text split east) |- (n229.text split west);
  \draw[br] (n222.text split east) |- (n223.text split west) (n222.text split east) |- (n226.text split west);
  \draw[br] (n223.text split east) |- (n224.text split west) (n223.text split east) |- (n225.text split west);
  \draw[br] (n226.text split east) |- (n227.text split west) (n226.text split east) |- (n228.text split west);
  \draw[br] (n229.text split east) |- (n230.text split west) (n229.text split east) |- (n231.text split west);
  \draw[br] (n232.text split east) |- (n233.text split west) (n232.text split east) |- (n236.text split west);
  \draw[br] (n233.text split east) |- (n234.text split west) (n233.text split east) |- (n235.text split west);
  \draw[br] (n236.text split east) |- (n237.text split west) (n236.text split east) |- (n238.text split west);
  \draw[br] (n240.text split east) |- (n241.text split west) (n240.text split east) |- (n248.text split west);
  \draw[br] (n241.text split east) |- (n242.text split west) (n241.text split east) |- (n243.text split west);
  \draw[br] (n243.text split east) |- (n244.text split west) (n243.text split east) |- (n245.text split west);
  \draw[br] (n245.text split east) |- (n246.text split west) (n245.text split east) |- (n247.text split west);
  \draw[br] (n248.text split east) |- (n249.text split west) (n248.text split east) |- (n250.text split west);
  \draw[br] (n250.text split east) |- (n251.text split west) (n250.text split east) |- (n256.text split west);
  \draw[br] (n251.text split east) |- (n252.text split west) (n251.text split east) |- (n253.text split west);
  \draw[br] (n253.text split east) |- (n254.text split west) (n253.text split east) |- (n255.text split west);
  \draw[br] (n257.text split east) |- (n258.text split west) (n257.text split east) |- (n268.text split west);
  \draw[br] (n258.text split east) |- (n259.text split west) (n258.text split east) |- (n267.text split west);
  \draw[br] (n259.text split east) |- (n260.text split west) (n259.text split east) |- (n261.text split west);
  \draw[br] (n261.text split east) |- (n261a.center) (n261.text split east) |- (n261d.center);
  \draw[br] (n261a.center) |- (n261b.center) (n261a.center) |- (n261c.center);
  \draw[br] (n261d.center) |- (n261e.center) (n261d.center) |- (n261h.center);
  \draw[br] (n261e.center) |- (n261f.center) (n261e.center) |- (n261g.center);
  \draw[br] (n261h.center) |- (n261i.center) (n261h.center) |- (n261l.center);
  \draw[br] (n261i.center) |- (n261j.center) (n261i.center) |- (n261k.center);
  \draw[br] (n261l.center) |- (n261m.center) (n261l.center) |- (n262.text split west);
  \draw[br] (n261m.center) |- (n261n.center) (n261m.center) |- (n261o.center);
  \draw[br] (n262.text split east) |- (n263.text split west) (n262.text split east) |- (n266.text split west);
  \draw[br] (n263.text split east) |- (n264.text split west) (n263.text split east) |- (n265.text split west);
  \draw[br] (n268.text split east) |- (n269.text split west) (n268.text split east) |- (n282.text split west);
  \draw[br] (n269.text split east) |- (n270.text split west) (n269.text split east) |- (n281.text split west);
  \draw[br] (n270.text split east) |- (n271.text split west) (n270.text split east) |- (n280.text split west);
  \draw[br] (n271.text split east) |- (n272.text split west) (n271.text split east) |- (n273.text split west);
  \draw[br] (n273.text split east) |- (n274.text split west) (n273.text split east) |- (n275.text split west);
  \draw[br] (n275.text split east) |- (n276.text split west) (n275.text split east) |- (n277.text split west);
  \draw[br] (n277.text split east) |- (n278.text split west) (n277.text split east) |- (n279.text split west);
  \draw[br] (n282.text split east) |- (n283.text split west) (n282.text split east) |- (n284.text split west);
  \draw[br] (n283.text split east) |- (n283a.center) (n283.text split east) |- (n283d.center);
  \draw[br] (n283a.center) |- (n283b.center) (n283a.center) |- (n283c.center);
  \draw[br] (n283d.center) |- (n283e.center) (n283d.center) |- (n283f.center);
  \draw[br] (n284.text split east) |- (n285.text split west) (n284.text split east) |- (n295.text split west);
  \draw[br] (n285.text split east) |- (n285a.center) (n285.text split east) |- (n285d.center);
  \draw[br] (n285a.center) |- (n285b.center) (n285a.center) |- (n285c.center);
  \draw[br] (n285d.center) |- (n286.text split west) (n285d.center) |- (n285e.center);
  \draw[br] (n286.text split east) |- (n287.text split west) (n286.text split east) |- (n294.text split west);
  \draw[br] (n287.text split east) |- (n288.text split west) (n287.text split east) |- (n293.text split west);
  \draw[br] (n288.text split east) |- (n289.text split west) (n288.text split east) |- (n290.text split west);
  \draw[br] (n290.text split east) |- (n291.text split west) (n290.text split east) |- (n292.text split west);
  \draw[br] (n295.text split east) |- (n295a.center) (n295.text split east) |- (n295b.center);
  \draw[br] (n295b.center) |- (n295c.center) (n295b.center) |- (n295f.center);
  \draw[br] (n295c.center) |- (n295d.center) (n295c.center) |- (n295e.center);
  \draw[br] (n296.text split east) |- (n297.text split west) (n296.text split east) |- (n300.text split west);
  \draw[br] (n297.text split east) |- (n298.text split west) (n297.text split east) |- (n299.text split west);
  \draw[br] (n300.text split east) |- (n301.text split west) (n300.text split east) |- (n304.text split west);
  \draw[br] (n301.text split east) |- (n302.text split west) (n301.text split east) |- (n303.text split west);
  \draw[br] (n303.text split east) |- (n303a.center) (n303.text split east) |- (n303b.center);

  \coordinate (bar start) at (1,5297);
  \coordinate (bar end) at (51,5297);
  \draw[scalebar] (bar start) -- (bar end);
  \node[legendtext] (bar label) at (1,5314) {0.0408917};
\end{tikzpicture}
\end{document}
